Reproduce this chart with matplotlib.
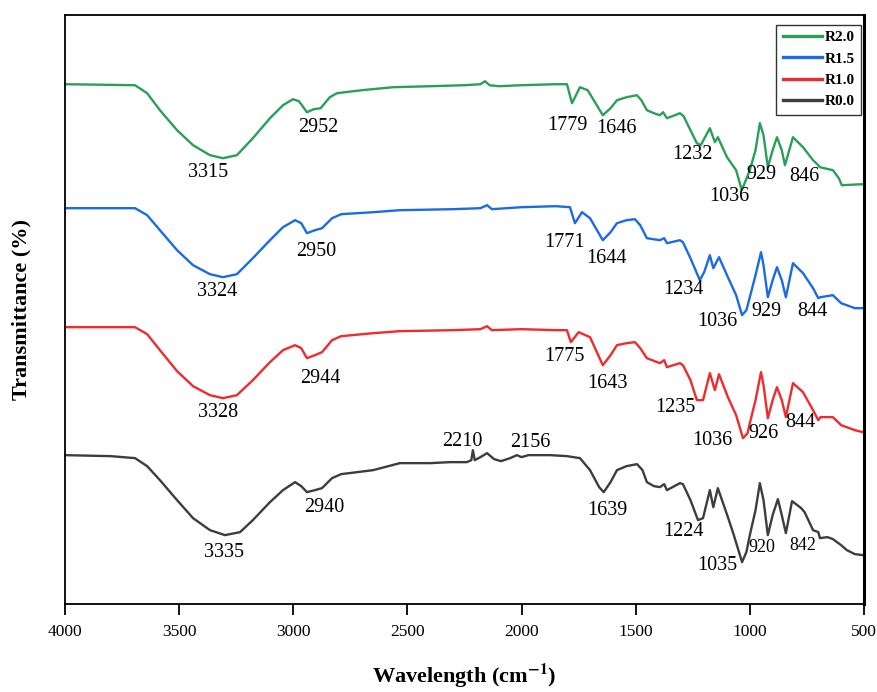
import matplotlib
matplotlib.use('Agg')
from matplotlib import pyplot as plt

plt.rcParams['font.family'] = ['Liberation Serif', 'DejaVu Serif']
plt.rcParams['mathtext.fontset'] = 'stix'

# wavenumber (cm-1) / transmittance (a.u., curves already offset)
w_r20 = [4000, 3693, 3640, 3584, 3509, 3439, 3365, 3308, 3247, 3177, 3102, 3045,
         3001, 2975, 2940, 2910, 2880, 2840, 2809, 2700, 2563, 2400, 2250, 2180,
         2160, 2140, 2100, 2000, 1850, 1801, 1779, 1744, 1710, 1644, 1610, 1582,
         1540, 1495, 1475, 1451, 1420, 1394, 1380, 1363, 1306, 1290, 1232, 1215,
         1175, 1153, 1140, 1100, 1060, 1035, 1000, 975, 956, 940, 921, 900, 881,
         860, 846, 811, 767, 723, 700, 693, 636, 610, 597, 504]
t_r20 = [520, 519, 511, 494, 474, 459, 449, 446, 449, 466, 486, 499,
         505, 503, 492, 495, 496, 507, 511, 514, 517, 518, 519, 520,
         523, 519, 518, 519, 520, 520, 501, 517, 514, 489, 496, 504,
         507, 509, 504, 494, 491, 489, 492, 486, 491, 488, 461, 459,
         476, 462, 467, 447, 434, 414, 434, 454, 481, 469, 437, 454, 467,
         454, 439, 467, 457, 444, 439, 437, 434, 426, 419, 420]

w_r15 = [4000, 3693, 3640, 3584, 3509, 3439, 3365, 3308, 3247, 3177, 3102, 3045,
         2992, 2965, 2940, 2905, 2874, 2830, 2790, 2650, 2533, 2300, 2180, 2151,
         2130, 2000, 1850, 1788, 1766, 1735, 1700, 1644, 1610, 1582, 1540, 1503,
         1480, 1451, 1394, 1375, 1363, 1306, 1293, 1260, 1219, 1200, 1175, 1160,
         1135, 1096, 1060, 1034, 1015, 1000, 975, 951, 940, 921, 900, 881, 860,
         842, 811, 767, 723, 700, 690, 636, 600, 540, 504]
t_r15 = [396, 396, 389, 374, 354, 339, 330, 327, 330, 346, 364, 377,
         384, 381, 371, 374, 376, 386, 390, 392, 394, 395, 396, 399,
         395, 397, 398, 397, 381, 392, 386, 364, 372, 381, 384, 385,
         379, 366, 364, 366, 361, 364, 362, 346, 324, 332, 349, 336,
         347, 327, 309, 289, 294, 307, 329, 352, 339, 307, 324, 337, 324,
         307, 341, 331, 316, 306, 307, 309, 301, 296, 296]

w_r10 = [4000, 3693, 3640, 3584, 3509, 3439, 3365, 3308, 3247, 3177, 3102, 3045,
         2992, 2965, 2940, 2905, 2874, 2830, 2790, 2650, 2533, 2300, 2180, 2151,
         2130, 2000, 1850, 1801, 1784, 1750, 1700, 1644, 1610, 1582, 1540, 1503,
         1480, 1451, 1394, 1375, 1363, 1306, 1293, 1260, 1232, 1205, 1175, 1153,
         1135, 1096, 1060, 1030, 1010, 1000, 975, 951, 940, 921, 900, 881, 860,
         842, 811, 767, 723, 700, 690, 636, 600, 540, 504]
t_r10 = [277, 277, 270, 254, 233, 218, 209, 206, 209, 224, 242, 254,
         259, 256, 246, 249, 252, 264, 268, 271, 273, 274, 275, 278,
         274, 275, 274, 274, 262, 272, 267, 239, 249, 259, 261, 262,
         256, 246, 241, 244, 237, 241, 239, 224, 204, 204, 231, 214,
         230, 207, 189, 166, 171, 181, 204, 232, 219, 186, 204, 217, 204,
         187, 221, 212, 194, 184, 187, 187, 179, 174, 172]

w_r00 = [4000, 3800, 3693, 3640, 3584, 3509, 3439, 3365, 3299, 3233, 3177, 3102,
         3045, 2992, 2965, 2940, 2905, 2874, 2830, 2790, 2650, 2533, 2400, 2314,
         2239, 2220, 2213, 2205, 2180, 2151, 2120, 2090, 2050, 2020, 2000, 1970,
         1875, 1801, 1744, 1700, 1660, 1640, 1610, 1582, 1540, 1494, 1470, 1451,
         1420, 1394, 1375, 1363, 1306, 1293, 1260, 1227, 1205, 1175, 1160, 1140,
         1096, 1070, 1034, 1015, 1000, 975, 956, 940, 921, 900, 877, 860, 842,
         815, 775, 760, 723, 700, 693, 660, 636, 600, 575, 540, 504]
t_r00 = [149, 148, 146, 138, 124, 104, 86, 74, 69, 72, 84, 102,
         114, 122, 118, 112, 114, 116, 126, 130, 134, 141, 141, 142,
         142, 144, 154, 144, 147, 151, 145, 143, 146, 149, 147, 149,
         149, 148, 146, 134, 117, 112, 122, 134, 138, 140, 134, 122,
         118, 117, 120, 114, 121, 120, 104, 84, 86, 114, 97, 116,
         87, 69, 42, 52, 69, 94, 121, 104, 69, 89, 105, 89, 71,
         103, 96, 92, 74, 72, 66, 67, 65, 59, 54, 50, 49]

names = ['R2.0', 'R1.5', 'R1.0', 'R0.0']
colors = ['#2a9f58', '#1c6be3', '#ef2b2d', '#3d3d3d']

# peak labels: (text, x, y) in data coordinates
labels = [
    ('3315', 3374, 432), ('2952', 2892, 477), ('1779', 1801, 479),
    ('1646', 1582, 476), ('1232', 1253, 450), ('1036', 1091, 408),
    ('929', 947, 430), ('846', 763, 428),
    ('3324', 3334, 313), ('2950', 2901, 353), ('1771', 1810, 362),
    ('1644', 1626, 346), ('1234', 1293, 315), ('1036', 1144, 283),
    ('929', 929, 293), ('844', 728, 293),
    ('3328', 3330, 192), ('2944', 2883, 226), ('1775', 1810, 248),
    ('1643', 1626, 221), ('1235', 1328, 197), ('1036', 1166, 164),
    ('926', 942, 171), ('844', 780, 182),
    ('3335', 3304, 52), ('2940', 2865, 97), ('2210', 2261, 163),
    ('2156', 1963, 162), ('1639', 1626, 94), ('1224', 1289, 73),
    ('1035', 1144, 39),
]
small_labels = [('920', 947, 57), ('842', 767, 59)]

fig = plt.figure(figsize=(8.78, 6.92), dpi=100)
ax = fig.add_axes([0.074, 0.127, 0.91, 0.851])

series = [(w_r20, t_r20), (w_r15, t_r15), (w_r10, t_r10), (w_r00, t_r00)]
for (w, t), name, c in zip(series, names, colors):
    ax.plot(w, t, color=c, lw=1.7, label=name)

for txt, x, y in labels:
    ax.text(x, y, txt, fontsize=14.5, ha='center', va='center')
for txt, x, y in small_labels:
    ax.text(x, y, txt, fontsize=13, ha='center', va='center')

ax.set_xlim(4000, 500)
ax.set_ylim(0, 589)
ax.set_xticks([4000, 3500, 3000, 2500, 2000, 1500, 1000, 500])
ax.set_yticks([])
ax.tick_params(axis='x', direction='out', length=8, width=1.3, labelsize=12.5, pad=6)
for s in ax.spines.values():
    s.set_linewidth(1.3)
ax.spines['right'].set_linewidth(2.2)

ax.set_xlabel(r'Wavelength (cm$^{\mathbf{-1}}$)', fontsize=16, fontweight='bold', labelpad=16)
ax.set_ylabel('Transmittance (%)', fontsize=16, fontweight='bold', labelpad=24)

leg = ax.legend(loc='upper right', bbox_to_anchor=(0.996, 0.984), borderaxespad=0,
                fancybox=False, edgecolor='#333333', framealpha=1,
                prop={'family': 'Liberation Serif', 'weight': 'bold', 'size': 11},
                handlelength=2.6, handletextpad=0.15, labelspacing=0.5,
                borderpad=0.4)
leg.get_frame().set_linewidth(1.0)
for line in leg.get_lines():
    line.set_linewidth(2.4)

fig.savefig('out.png', dpi=100)
